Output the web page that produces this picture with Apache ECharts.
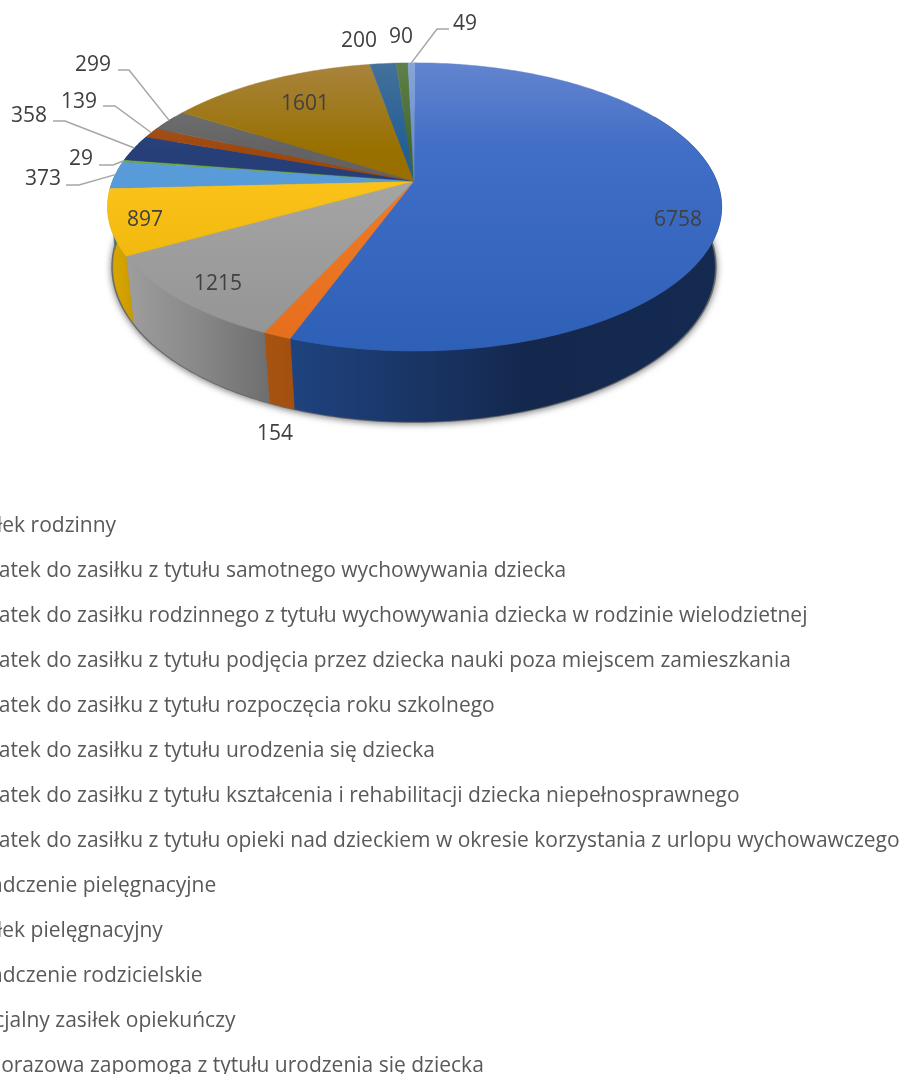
<!DOCTYPE html>
<html>
<head>
<meta charset="utf-8">
<style>
html, body { margin: 0; padding: 0; background: #fff; overflow: hidden; }
#demo { width: 901px; height: 1074px; }
</style>
<script src="https://cdn.jsdelivr.net/npm/echarts@6/dist/echarts.min.js"></script>
</head>
<body>
<div id="demo"></div>
<script>
const categories = [
	'Zasiłek rodzinny',
	'Dodatek do zasiłku z tytułu samotnego wychowywania dziecka',
	'Dodatek do zasiłku rodzinnego z tytułu wychowywania dziecka w rodzinie wielodzietnej',
	'Dodatek do zasiłku z tytułu podjęcia przez dziecka nauki poza miejscem zamieszkania',
	'Dodatek do zasiłku z tytułu rozpoczęcia roku szkolnego',
	'Dodatek do zasiłku z tytułu urodzenia się dziecka',
	'Dodatek do zasiłku z tytułu kształcenia i rehabilitacji dziecka niepełnosprawnego',
	'Dodatek do zasiłku z tytułu opieki nad dzieckiem w okresie korzystania z urlopu wychowawczego',
	'Świadczenie pielęgnacyjne',
	'Zasiłek pielęgnacyjny',
	'Świadczenie rodzicielskie',
	'Specjalny zasiłek opiekuńczy',
	'Jednorazowa zapomoga z tytułu urodzenia się dziecka'
];
// same order as categories, clockwise from the back of the pie
const values = [6758, 154, 1215, 897, 373, 29, 358, 139, 299, 1601, 200, 90, 49];

// [light at the back, base, dark at the front] of the top face
const topShades = [
	['#6384cf', '#416ec6', '#2e60b8'],
	['#f48a42', '#ef7d2c', '#e56e1c'],
	['#b8b8b8', '#a8a8a8', '#939393'],
	['#ffd766', '#ffc61e', '#e5ae00'],
	['#72aae2', '#5b9ddb', '#4a90d0'],
	['#80bb58', '#70ad47', '#64a03c'],
	['#44598a', '#263f78', '#1f3a72'],
	['#ac6238', '#9e480e', '#963f00'],
	['#7a7a7a', '#636363', '#5c5c5c'],
	['#a8843e', '#997000', '#966e00'],
	['#44709b', '#235f95', '#1f5e96'],
	['#5f8049', '#43682b', '#3c6420'],
	['#88a5db', '#698ed0', '#6088cc']
];
const wallShades = [
	['#1f437f', '#14284e', '#152a50'],
	['#a8530f', '#a5510f', '#a24f10'],
	['#9e9e9e', '#868686', '#6e6e6e'],
	['#dca800', '#d4a200', '#c89a00'],
	['#3c6f9e', '#3c6f9e', '#3c6f9e'],
	['#4f7a32', '#4f7a32', '#4f7a32'],
	['#1a2f55', '#1a2f55', '#1a2f55'],
	['#6f330a', '#6f330a', '#6f330a'],
	['#464646', '#464646', '#464646'],
	['#6c5100', '#6c5100', '#6c5100'],
	['#1a4267', '#1a4267', '#1a4267'],
	['#2f4a1f', '#2f4a1f', '#2f4a1f'],
	['#4a6593', '#4a6593', '#4a6593']
];

// label centre, then the leader elbow start when the label has a leader
const labelPos = [
	{ x: 678, y: 220 },
	{ x: 275, y: 434 },
	{ x: 218, y: 284 },
	{ x: 145, y: 220 },
	{ x: 43, y: 179, from: [66, 185], elbow: [79, 185] },
	{ x: 81, y: 159, from: [99, 165], elbow: [113, 165] },
	{ x: 29, y: 116, from: [53, 121], elbow: [65, 121] },
	{ x: 79, y: 102, from: [103, 106], elbow: [115, 106] },
	{ x: 93, y: 65, from: [118, 70], elbow: [129, 70] },
	{ x: 305, y: 104 },
	{ x: 359, y: 41 },
	{ x: 401, y: 37 },
	{ x: 465, y: 24, from: [449, 29], elbow: [437, 29] }
];

const topFace = { cx: 414.6, cy: 181, a: 302, b: 139.4, k: -0.18 };
const bottomFace = { cx: 414, cy: 242, a: 297, b: 151, k: -0.16 };
const total = values.reduce((s, v) => s + v, 0);

// perspective view of a circle: t is the fraction of the way round from the back
function rim(face, t, grow) {
	const ang = t * Math.PI * 2;
	const u = Math.sin(ang), v = -Math.cos(ang);
	const w = 1 + face.k * v;
	const g = grow || 1;
	return [face.cx + g * face.a * u / w, face.cy + g * face.b * v / w];
}

function arc(face, t0, t1, grow) {
	const n = Math.max(2, Math.ceil((t1 - t0) * 360) + 1);
	const pts = [];
	for (let i = 0; i < n; i++) pts.push(rim(face, t0 + (t1 - t0) * i / (n - 1), grow));
	return pts;
}

function shade(c) {
	return { type: 'linear', x: 0, y: 63, x2: 0, y2: 351, global: true, colorStops: [
		{ offset: 0, color: c[0] }, { offset: 0.3, color: c[1] }, { offset: 1, color: c[2] }
	] };
}

function wallFill(c) {
	return { type: 'linear', x: 0, y: 0, x2: 1, y2: 0, colorStops: [
		{ offset: 0, color: c[0] }, { offset: 0.55, color: c[1] }, { offset: 1, color: c[2] }
	] };
}

function renderSlice(idx) {
	return function (params, api) {
		const t0 = api.value(0) / total;
		const t1 = (api.value(0) + api.value(1)) / total;
		const children = [];

		if (idx === 0) {
			children.push({
				type: 'polygon', z2: 0,
				shape: { points: arc(bottomFace, 0, 1, 1.006) },
				style: { fill: '#6a6a6a', shadowColor: 'rgba(0,0,0,0.55)', shadowBlur: 7, shadowOffsetY: 1 }
			});
		}

		// only the front of the wall can be seen
		const w0 = Math.max(t0, 1 / 6), w1 = Math.min(t1, 5 / 6);
		if (w1 > w0) {
			const fill = wallFill(wallShades[idx]);
			children.push({
				type: 'polygon', z2: 1,
				shape: { points: arc(topFace, w0, w1).concat(arc(bottomFace, w0, w1).reverse()) },
				style: { fill: fill, stroke: fill, lineWidth: 0.5 }
			});
		}

		const fill = shade(topShades[idx]);
		children.push({
			type: 'polygon', z2: 2,
			shape: { points: [[414, topFace.cy]].concat(arc(topFace, t0, t1)) },
			style: { fill: fill, stroke: fill, lineWidth: 0.5 }
		});

		const pos = labelPos[idx];
		if (pos.from) {
			children.push({
				type: 'polyline', z2: 3,
				shape: { points: [pos.from, pos.elbow, rim(topFace, (t0 + t1) / 2)] },
				style: { fill: null, stroke: '#a6a6a6', lineWidth: 1.5 }
			});
		}
		children.push({
			type: 'text', z2: 4,
			style: {
				x: pos.x, y: pos.y, text: String(api.value(1)),
				fill: '#404040', font: '21px "Open Sans"', align: 'center', verticalAlign: 'middle'
			}
		});
		return { type: 'group', children: children };
	};
}

let chart = echarts.init(document.getElementById('demo'));
let start = 0;
let series = values.map((v, i) => {
	const s = {
		type: 'custom',
		name: categories[i],
		coordinateSystem: 'none',
		silent: true,
		itemStyle: { color: topShades[i][1] },
		renderItem: renderSlice(i),
		data: [[start, v]]
	};
	start += v;
	return s;
});

chart.setOption({
	backgroundColor: '#fff',
	animation: false,
	legend: {
		orient: 'vertical',
		left: -57,
		top: 516,
		height: 640,
		padding: 0,
		itemWidth: 10,
		itemHeight: 10,
		itemGap: 24,
		selectedMode: false,
		textStyle: { color: '#595959', fontSize: 21, fontFamily: 'Open Sans' },
		data: categories
	},
	series: series
});
</script>
</body>
</html>
